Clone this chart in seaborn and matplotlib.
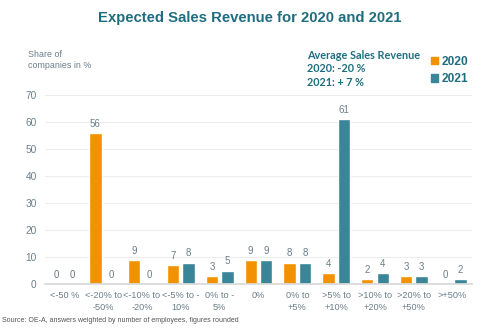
import matplotlib
matplotlib.use("Agg")
import matplotlib.pyplot as plt
import seaborn as sns
import pandas as pd

categories = ["<-50 %", "<-20% to\n-50%", "<-10% to\n-20%", "<-5% to -\n10%", "0% to -\n5%",
              "0%", "0% to\n+5%", ">5% to\n+10%", ">10% to\n+20%", ">20% to\n+50%", ">+50%"]
values_2020 = [0, 56, 9, 7, 3, 9, 8, 4, 2, 3, 0]
values_2021 = [0, 0, 0, 8, 5, 9, 8, 61, 4, 3, 2]
years = ["2020", "2021"]
y_ticks = [0, 10, 20, 30, 40, 50, 60, 70]

orange = "#F39200"
teal = "#3B8599"
title_col = "#1F6E80"
tick_col = "#6A7F8A"

df = pd.DataFrame({
    "category": categories * 2,
    "share": values_2020 + values_2021,
    "year": [years[0]] * len(categories) + [years[1]] * len(categories),
})

sns.set_theme(style="white")
plt.rcParams["font.family"] = ["Liberation Sans", "DejaVu Sans"]

fig = plt.figure(figsize=(5, 3.3), dpi=100)
ax = fig.add_axes([0.09, 0.139, 0.854, 0.573])

sns.barplot(data=df, x="category", y="share", hue="year", order=categories,
            hue_order=years, palette=[orange, teal], width=0.8, gap=0.2,
            saturation=1, legend=False, ax=ax)

for cont in ax.containers:
    ax.bar_label(cont, fmt="%d", padding=3, fontsize=7, color=tick_col, clip_on=False)

ax.set_ylim(0, 70)
ax.set_xlim(-0.5, len(categories) - 0.5)
ax.set_yticks(y_ticks)
ax.yaxis.grid(True, color="#EDEDED", linewidth=0.8)
ax.set_axisbelow(True)
for s in ["top", "right", "left"]:
    ax.spines[s].set_visible(False)
ax.spines["bottom"].set_color("#D9D9D9")
ax.tick_params(axis="x", length=0, labelsize=6.6, colors=tick_col, pad=5)
ax.tick_params(axis="y", length=0, labelsize=7.3, colors=tick_col, pad=6)
for lbl in ax.get_xticklabels():
    lbl.set_linespacing(1.4)
ax.set_xlabel("")
ax.set_ylabel("")

fig.text(0.5, 0.945, "Expected Sales Revenue for 2020 and 2021", ha="center", va="center",
         fontsize=10.7, fontweight="bold", color=title_col)
fig.text(0.056, 0.818, "Share of\ncompanies in %", ha="left", va="center",
         fontsize=6.4, color=tick_col, linespacing=1.3)

ann_font = ["Lato", "DejaVu Sans"]
fig.text(0.614, 0.833, "Average Sales Revenue", fontsize=7.8, fontweight="bold",
         color=title_col, family=ann_font, va="center")
fig.text(0.614, 0.793, "2020: -20 %", fontsize=7.8, fontweight="bold",
         color=title_col, family=ann_font, va="center")
fig.text(0.614, 0.750, "2021: + 7 %", fontsize=7.8, fontweight="bold",
         color=title_col, family=ann_font, va="center")

handles = [plt.Rectangle((0, 0), 1, 1, color=c) for c in (orange, teal)]
leg = fig.legend(handles, years, loc="center left", bbox_to_anchor=(0.862, 0.786),
                 frameon=False, handlelength=0.55, handleheight=0.55, handletextpad=0.35,
                 labelspacing=0.45, borderaxespad=0, borderpad=0,
                 prop={"size": 8.6, "weight": "bold"})
for t in leg.get_texts():
    t.set_color(title_col)

fig.text(0.004, 0.03, "Source: OE-A, answers weighted by number of employees, figures rounded",
         fontsize=5, color="#555555", ha="left", va="center")

fig.savefig("out.png", dpi=100)
